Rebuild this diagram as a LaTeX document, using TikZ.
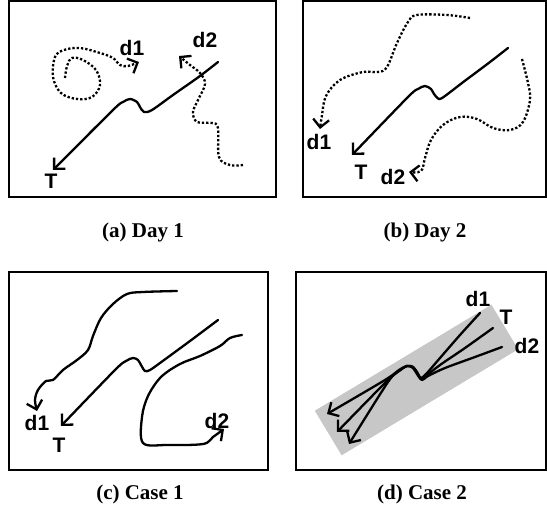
\documentclass[tikz,border=0pt]{standalone}
\usepackage{fontspec}
\setmainfont{Liberation Serif}
\newfontfamily\labelfont{Liberation Sans}
\usetikzlibrary{arrows.meta}
\begin{document}
\begin{tikzpicture}[x=1pt,y=-1pt,
  frame/.style={draw=black,line width=2.2pt},
  trail/.style={line width=2.3pt,line cap=round,line join=round,
    -{Straight Barb[length=8pt,width=16pt,line width=2.3pt]}},
  dots/.style={trail,line cap=butt,dash pattern=on 2.3pt off 2pt},
  tag/.style={font=\labelfont\bfseries\fontsize{21}{21}\selectfont,inner sep=0pt},
  caption/.style={font=\bfseries\fontsize{21}{21}\selectfont,inner sep=0pt},
  band/.style={fill=black!22,draw=none}]
\useasboundingbox (0,0) rectangle (547,513);

% ---------- frames ----------
\draw[frame] (9,1) rectangle (276,197);
\draw[frame] (303,1) rectangle (546,197);
\draw[frame] (9,272) rectangle (268,470);
\draw[frame] (296,272) rectangle (546,470);

% ---------- captions ----------
\node[caption] (capA) at (143,232) {(a) Day 1};
\node[caption] (capB) at (425,232) {(b) Day 2};
\node[caption] (capC) at (140,494) {(c) Case 1};
\node[caption] (capD) at (422,494) {(d) Case 2};

% ---------- (a) Day 1 ----------
\coordinate (aTs) at (218,62);  \coordinate (aTe) at (53,170);
\coordinate (a1s) at (65,78);   \coordinate (a1e) at (139,62);
\coordinate (a2s) at (243,165); \coordinate (a2e) at (179,56);
\draw[trail] plot[smooth,tension=0.5] coordinates {(aTs) (200,76) (173,95) (152,110) (144,112)
  (140,107) (137,102) (130,99) (123,102) (113,110) (aTe)};
\draw[dots] plot[smooth,tension=0.6] coordinates {(a1s) (67,66) (72,58) (83,60) (96,70) (100,85)
  (92,97) (77,99) (61,93) (53,77) (55,57) (64,50) (80,48) (100,53) (113,58) (120,65) (128,66) (a1e)};
\draw[dots] plot[smooth,tension=0.6] coordinates {(a2s) (230,165) (219,157) (218,128) (212,123)
  (197,122) (193,112) (198,100) (205,84) (200,73) (190,65) (a2e)};
\node[tag] (aT) at (51,181) {T};
\node[tag] (aD1) at (132,48) {d1};
\node[tag] (aD2) at (205,40) {d2};

% ---------- (b) Day 2 ----------
\coordinate (bTs) at (508,48);  \coordinate (bTe) at (352,155);
\coordinate (b1s) at (470,18);  \coordinate (b1e) at (320,129);
\coordinate (b2s) at (522,59);  \coordinate (b2e) at (409,172);
\draw[trail] plot[smooth,tension=0.5] coordinates {(bTs) (490,62) (462,83) (445,96) (439,99)
  (434,94) (431,89) (425,86) (418,89) (408,97) (bTe)};
\draw[dots] plot[smooth,tension=0.6] coordinates {(b1s) (447,15) (417,15) (408,22) (397,43)
  (387,67) (378,72) (363,72) (340,80) (326,96) (322,115) (b1e)};
\draw[dots] plot[smooth,tension=0.6] coordinates {(b2s) (528,83) (530,100) (523,122) (510,130)
  (493,128) (477,119) (460,117) (443,125) (431,140) (425,158) (421,171) (b2e)};
\node[tag] (bT) at (361,172) {T};
\node[tag] (bD1) at (319,142) {d1};
\node[tag] (bD2) at (393,177) {d2};

% ---------- (c) Case 1 ----------
\coordinate (cTs) at (218,320); \coordinate (cTe) at (61,426);
\coordinate (c1s) at (177,291); \coordinate (c1e) at (37,411);
\coordinate (c2s) at (242,335); \coordinate (c2e) at (224,429);
\draw[trail] plot[smooth,tension=0.5] coordinates {(cTs) (190,341) (160,363) (150,370) (145,371)
  (141,365) (138,360) (133,358) (126,361) (115,370) (cTe)};
\draw[trail] plot[smooth,tension=0.55] coordinates {(c1s) (143,292) (127,294) (113,304) (101,318)
  (93,336) (88,350) (77,360) (63,370) (53,380) (46,381) (38,390) (35,400) (c1e)};
\draw[trail] plot[smooth,tension=0.55] coordinates {(c2s) (230,338) (220,346) (200,356) (180,364)
  (161,377) (148,396) (142,417) (143,443) (167,445) (203,444) (213,437) (c2e)};
\node[tag] (cT) at (59,445) {T};
\node[tag] (cD1) at (37,423) {d1};
\node[tag] (cD2) at (217,421) {d2};

% ---------- (d) Case 2 ----------
\fill[band] (314.8,410.7) -- (341.6,455.3) -- (518.2,349.3) -- (491.4,304.7) -- cycle;
\coordinate (d1s) at (480,313); \coordinate (d1e) at (349,444);
\coordinate (dTs) at (493,328); \coordinate (dTe) at (337,432);
\coordinate (d2s) at (502,347); \coordinate (d2e) at (327,414);
\draw[trail] plot[smooth,tension=0.5] coordinates {(d1s) (460,335) (440,358) (427,373) (421,378)
  (417,372) (413,367) (407,366) (399,371) (388,382) (d1e)};
\draw[trail] plot[smooth,tension=0.5] coordinates {(dTs) (465,348) (440,365) (426,376) (421,379)
  (417,373) (413,367) (407,366) (399,371) (385,383) (dTe)};
\draw[trail] plot[smooth,tension=0.5] coordinates {(d2s) (475,357) (445,368) (428,376) (422,380)
  (417,374) (413,368) (407,366) (399,370) (385,380) (d2e)};
\node[tag] (dD1) at (478,299) {d1};
\node[tag] (dT) at (506,317) {T};
\node[tag] (dD2) at (527,346) {d2};
\end{tikzpicture}
\end{document}
